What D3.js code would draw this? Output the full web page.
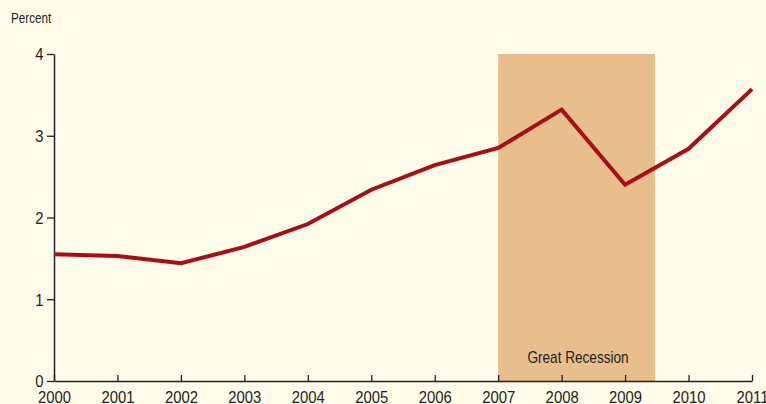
<!DOCTYPE html>
<html>
<head>
<meta charset="utf-8">
<script src="https://cdn.jsdelivr.net/npm/d3@7"></script>
<style>
  body { margin: 0; background: #fffcea; }
  svg text { font-family: "Liberation Sans", Arial, sans-serif; fill: #231f20; }
</style>
</head>
<body>
<svg id="chart" width="766" height="404"></svg>
<script>
var years = [2000, 2001, 2002, 2003, 2004, 2005, 2006, 2007, 2008, 2009, 2010, 2011];
var percent = [1.55, 1.53, 1.44, 1.64, 1.92, 2.34, 2.64, 2.85, 3.32, 2.40, 2.84, 3.57];
var yTicks = [0, 1, 2, 3, 4];
var recession = [2007, 2009.47];
var recessionLabel = "Great Recession";

var svg = d3.select("#chart"),
  margin = { top: 54, right: 14, bottom: 23, left: 54 },
  width = +svg.attr("width"),
  height = +svg.attr("height");

var x = d3.scaleLinear()
  .domain([2000, 2011])
  .range([margin.left, width - margin.right]);
var y = d3.scaleLinear()
  .domain([0, 4])
  .range([height - margin.bottom, margin.top]);

// squeeze text horizontally, the original uses a condensed face
function condense(sel, k) {
  sel.attr("transform", "scale(" + k + ",1)");
}

svg.append("rect")
  .attr("width", width)
  .attr("height", height)
  .attr("fill", "#fffcea");

// recession shading
svg.append("rect")
  .attr("x", x(recession[0]))
  .attr("y", y(4))
  .attr("width", x(recession[1]) - x(recession[0]))
  .attr("height", y(0) - y(4))
  .attr("fill", "#e9be8d");

svg.append("g")
  .attr("transform", "translate(" + ((x(recession[0]) + x(recession[1])) / 2 + 1.5) + "," + (y(0) - 18) + ")")
  .append("text")
  .attr("text-anchor", "middle")
  .style("font-size", "16px")
  .text(recessionLabel)
  .call(condense, 0.85);

// axes
var yAxis = svg.append("g")
  .attr("transform", "translate(" + x(2000) + ",0)")
  .call(d3.axisLeft(y).tickValues(yTicks).tickFormat(d3.format("d")).tickSize(7).tickSizeOuter(0));

var xAxis = svg.append("g")
  .attr("transform", "translate(0," + y(0) + ")")
  .call(d3.axisBottom(x).tickValues(years).tickFormat(d3.format("d")).tickSize(-6).tickSizeOuter(0));

[xAxis, yAxis].forEach(function (a) {
  a.select(".domain").attr("stroke", "#231f20").attr("stroke-width", 1.5);
  a.selectAll(".tick line").attr("stroke", "#231f20").attr("stroke-width", 1.3);
  a.selectAll("text").style("font-size", "16.5px").attr("fill", "#231f20").call(condense, 0.9);
});
yAxis.selectAll("text").attr("x", -10.5 / 0.9).attr("dy", "0.36em");
xAxis.selectAll("text").attr("y", 22).attr("dy", 0);

svg.append("g")
  .attr("transform", "translate(11,23)")
  .append("text")
  .style("font-size", "15px")
  .text("Percent")
  .call(condense, 0.78);

// line
var line = d3.line()
  .x(function (d, i) { return x(years[i]); })
  .y(function (d) { return y(d); });

svg.append("path")
  .datum(percent)
  .attr("d", line)
  .attr("fill", "none")
  .attr("stroke", "#a50f15")
  .attr("stroke-width", 4)
  .attr("stroke-linejoin", "miter");
</script>
</body>
</html>
